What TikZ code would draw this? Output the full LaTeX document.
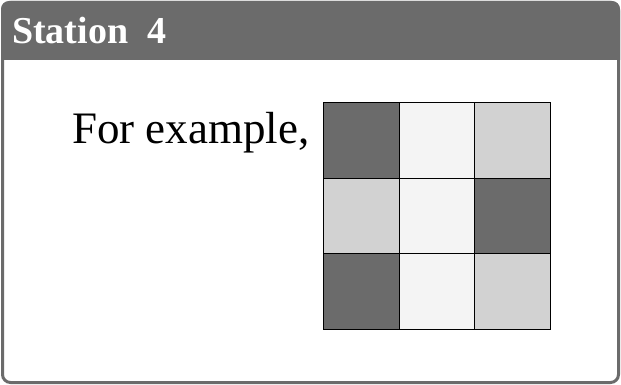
\documentclass[tikz,border=0pt]{standalone}
\usepackage{fontspec}
\setmainfont{Liberation Serif}
\usetikzlibrary{positioning}
\definecolor{boxgray}{HTML}{6B6B6B}
\definecolor{cellDark}{HTML}{6B6B6B}
\definecolor{cellMid}{HTML}{D2D2D2}
\definecolor{cellLight}{HTML}{F4F4F4}

\begin{document}
\begin{tikzpicture}[x=1pt,y=1pt,
  cellbox/.style={draw=black, line width=1pt, minimum size=75.7pt, inner sep=0pt, anchor=north west}]
\useasboundingbox (0,0) rectangle (621,-385);
% frame and header
\draw[boxgray, line width=3pt, rounded corners=8pt] (2.5,-2.5) rectangle (618.5,-382.5);
\fill[boxgray] (1,-60) [rounded corners=8pt] -- (1,-1) -- (620,-1) [sharp corners] -- (620,-60) -- cycle;
\node[anchor=base west, inner sep=0pt, text=white, font=\fontsize{38}{44}\selectfont\bfseries] (title) at (12,-44) {Station~~4};
\node[anchor=base west, inner sep=0pt, font=\fontsize{45}{52}\selectfont] (example) at (72,-143) {For example,};
% colour grid
\foreach \clr [count=\k from 0] in {cellDark,cellLight,cellMid,cellMid,cellLight,cellDark,cellDark,cellLight,cellMid}{
  \pgfmathtruncatemacro{\col}{mod(\k,3)}
  \pgfmathtruncatemacro{\row}{int(\k/3)}
  \node[cellbox, fill=\clr] (cell-\k) at ({323+75.7*\col},{-102-75.7*\row}) {};
}
\end{tikzpicture}
\end{document}
